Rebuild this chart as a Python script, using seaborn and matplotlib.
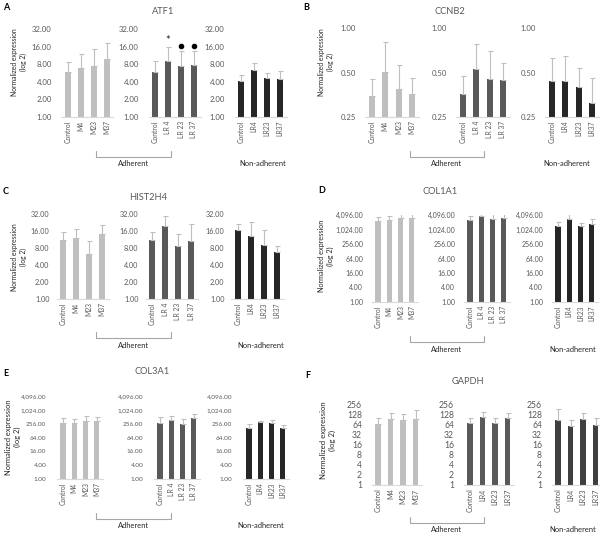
import matplotlib
matplotlib.use("Agg")
import matplotlib.pyplot as plt
import seaborn as sns
import pandas as pd
from matplotlib.lines import Line2D
from matplotlib.ticker import FixedLocator, FixedFormatter, NullLocator

sns.set_theme(style="white")
plt.rcParams['font.family'] = ['Lato', 'DejaVu Sans']

W, H = 600, 533

# categories for the three sub-groups of every panel
cats_m = ["Control", "M4", "M23", "M37"]
cats_lr = ["Control", "LR 4", "LR 23", "LR 37"]
cats_lr_nosp = ["Control", "LR4", "LR23", "LR37"]

# ATF1 (mean, top of upper error bar)
atf1_m = [5.8, 7.0, 7.6, 9.7]
atf1_m_err = [8.6, 12.0, 14.4, 18.2]
atf1_lr = [5.8, 9.2, 7.6, 7.8]
atf1_lr_err = [9.1, 16.0, 13.7, 13.2]
atf1_na = [4.05, 6.4, 4.6, 4.5]
atf1_na_err = [5.3, 8.3, 5.6, 6.2]

# CCNB2
ccnb2_m = [0.346, 0.50, 0.384, 0.355]
ccnb2_m_err = [0.45, 0.80, 0.56, 0.456]
ccnb2_lr = [0.355, 0.53, 0.45, 0.445]
ccnb2_lr_err = [0.473, 0.78, 0.70, 0.58]
ccnb2_na = [0.44, 0.44, 0.40, 0.31]
ccnb2_na_err = [0.63, 0.65, 0.54, 0.458]

# HIST2H4
hist_m = [11.2, 12.0, 6.3, 14.1]
hist_m_err = [15.2, 17.4, 10.8, 20.7]
hist_lr = [11.2, 19.3, 8.8, 10.5]
hist_lr_err = [15.2, 30.0, 14.4, 21.3]
hist_na = [16.9, 13.2, 9.2, 6.8]
hist_na_err = [21.3, 23.0, 16.7, 8.8]

# COL1A1
col1_m = [2400, 2570, 3000, 3000]
col1_m_err = [3300, 3900, 5300, 4900]
col1_lr = [2600, 3900, 2800, 3200]
col1_lr_err = [3900, 6000, 4900, 4300]
col1_na = [1450, 2750, 1450, 1700]
col1_na_err = [2200, 4400, 1870, 2800]

# COL3A1
col3_m = [280, 280, 330, 330]
col3_m_err = [460, 390, 580, 510]
col3_lr = [280, 370, 255, 430]
col3_lr_err = [480, 560, 390, 645]
col3_na = [170, 300, 280, 160]
col3_na_err = [238, 340, 365, 222]

# GAPDH
gapdh_m = [69, 97, 90, 99]
gapdh_m_err = [101, 144, 137, 181]
gapdh_lr = [72, 114, 75, 101]
gapdh_lr_err = [101, 154, 101, 144]
gapdh_na = [90, 60, 95, 64]
gapdh_na_err = [194, 90, 144, 101]

ticks_32 = [1, 2, 4, 8, 16, 32]
labels_32 = ["1.00", "2.00", "4.00", "8.00", "16.00", "32.00"]
ticks_ccnb2 = [0.25, 0.5, 1.0]
labels_ccnb2 = ["0.25", "0.50", "1.00"]
ticks_4096 = [1, 4, 16, 64, 256, 1024, 4096]
labels_4096 = ["1.00", "4.00", "16.00", "64.00", "256.00", "1,024.00", "4,096.00"]
ticks_256 = [1, 2, 4, 8, 16, 32, 64, 128, 256]
labels_256 = [str(t) for t in ticks_256]

LIGHT = "#bfbfbf"
MID = "#595959"
DARK = "#262626"
TXT = "#595959"

fig = plt.figure(figsize=(W / 100, H / 100), dpi=100)


def px_axes(x0, x1, ytop, ybase):
    return fig.add_axes([x0 / W, 1 - ybase / H, (x1 - x0) / W, (ybase - ytop) / H])


def group(x_first, spacing, ytop, ybase, cats, vals, errs, color, ticks, tlabels,
          width, yfs, ypad, xfs):
    ax = px_axes(x_first - spacing / 2, x_first + spacing * 3.5, ytop, ybase)
    df = pd.DataFrame({"cat": cats, "val": vals})
    ax.set_yscale("log", base=2)
    sns.barplot(data=df, x="cat", y="val", color=color, width=width, ax=ax,
                errorbar=None, saturation=1)
    for p in ax.patches:
        p.set_edgecolor("none")
    lower = [0] * len(vals)
    upper = [e - v for e, v in zip(errs, vals)]
    ax.errorbar(range(len(vals)), vals, yerr=[lower, upper], fmt="none",
                ecolor=LIGHT, elinewidth=0.8, capsize=1.8, capthick=0.8, zorder=1)
    ax.set_ylim(ticks[0], ticks[-1])
    ax.set_xlim(-0.5, 3.5)
    ax.yaxis.set_major_locator(FixedLocator(ticks))
    ax.yaxis.set_major_formatter(FixedFormatter(tlabels))
    ax.yaxis.set_minor_locator(NullLocator())
    ax.tick_params(axis="y", length=0, labelsize=yfs, colors=TXT, pad=ypad)
    ax.tick_params(axis="x", length=0, labelsize=xfs, colors=TXT, pad=2.5,
                   labelrotation=90)
    ax.set_xlabel("")
    ax.set_ylabel("")
    for s in ["top", "right", "left"]:
        ax.spines[s].set_visible(False)
    ax.spines["bottom"].set_color("#d9d9d9")
    ax.spines["bottom"].set_linewidth(0.8)
    ax.patch.set_alpha(0)
    return ax


def bracket(x1, x2, y, label, label_y, fs):
    fig.add_artist(Line2D([x1 / W, x1 / W, x2 / W, x2 / W],
                          [1 - (y - 6) / H, 1 - y / H, 1 - y / H, 1 - (y - 6) / H],
                          color="#a6a6a6", lw=0.8))
    fig.text((x1 + x2) / 2 / W, 1 - label_y / H, label, ha="center", va="center",
             fontsize=fs, color="#262626")


def panel(letter, lx, ly, title, tx, ty, ylx, yly, firsts, spacing, ytop, ybase,
          series, cat_sets, colors, ticks, tlabels, br_x, br_y, na_x, width,
          yfs, ypad, xfs, labfs):
    fig.text(lx / W, 1 - ly / H, letter, fontsize=6.5, fontweight="bold", ha="left",
             va="center", color="#000000")
    fig.text(tx / W, 1 - ty / H, title, fontsize=6.7, ha="center", va="center",
             color=TXT)
    fig.text(ylx / W, 1 - yly / H, "Normalized expression\n(log 2)", fontsize=labfs,
             rotation=90, ha="center", va="center", color="#262626", linespacing=1.3)
    axes = []
    for xf, (v, e), cats, c in zip(firsts, series, cat_sets, colors):
        axes.append(group(xf, spacing, ytop, ybase, cats, v, e, c, ticks, tlabels,
                          width, yfs, ypad, xfs))
    bracket(br_x[0], br_x[1], br_y, "Adherent", br_y + 7, 5.4)
    fig.text(na_x / W, 1 - (br_y + 7) / H, "Non-adherent", fontsize=5.4,
             ha="center", va="center", color="#262626")
    return axes


cols3 = [LIGHT, MID, DARK]

# A
axA = panel("A", 3, 8, "ATF1", 163, 12, 19, 62, [68, 155, 241], 13, 29, 117,
            [(atf1_m, atf1_m_err), (atf1_lr, atf1_lr_err), (atf1_na, atf1_na_err)],
            [cats_m, cats_lr, cats_lr_nosp], cols3, ticks_32, labels_32,
            (96, 171), 157, 263, 0.46, 5.6, 7, 4.9, 4.9)
axA[1].text(1, 20.5, "*", ha="center", va="center", fontsize=8, color="#262626")
for i in [2, 3]:
    axA[1].plot([i], [16.4], "o", color="#000000", ms=3.0, clip_on=False)

# B
panel("B", 303, 8, "CCNB2", 450, 12, 326, 62, [372, 463, 552], 13.3, 28, 117,
      [(ccnb2_m, ccnb2_m_err), (ccnb2_lr, ccnb2_lr_err), (ccnb2_na, ccnb2_na_err)],
      [cats_m, cats_lr, cats_lr_nosp], cols3, ticks_ccnb2, labels_ccnb2,
      (410, 484), 157, 567, 0.46, 5.6, 7, 4.9, 4.9)

# C
panel("C", 3, 192, "HIST2H4", 148, 198, 19, 257, [63, 152, 238], 13, 214, 299,
      [(hist_m, hist_m_err), (hist_lr, hist_lr_err), (hist_na, hist_na_err)],
      [cats_m, cats_lr, cats_lr_nosp], cols3, ticks_32, labels_32,
      (96, 171), 338, 261, 0.46, 5.2, 5, 4.9, 4.9)

# D
panel("D", 318, 190, "COL1A1", 440, 192, 326, 256, [378, 470, 558], 11.3, 215, 302,
      [(col1_m, col1_m_err), (col1_lr, col1_lr_err), (col1_na, col1_na_err)],
      [cats_m, cats_lr, cats_lr_nosp], cols3, ticks_4096, labels_4096,
      (410, 484), 342, 573, 0.45, 5.0, 6.5, 4.9, 5.2)

# E
panel("E", 3, 373, "COL3A1", 152, 372, 13, 437, [63, 160, 249], 11.3, 396, 479,
      [(col3_m, col3_m_err), (col3_lr, col3_lr_err), (col3_na, col3_na_err)],
      [cats_m, cats_lr, cats_lr_nosp], cols3, ticks_4096, labels_4096,
      (96, 171), 519, 261, 0.45, 4.6, 8, 4.9, 5.4)

# F
panel("F", 305, 375, "GAPDH", 468, 382, 328, 440, [378, 470, 558], 12.5, 405, 485,
      [(gapdh_m, gapdh_m_err), (gapdh_lr, gapdh_lr_err), (gapdh_na, gapdh_na_err)],
      [cats_m, cats_lr_nosp, cats_lr_nosp], [LIGHT, MID, "#3f3f3f"], ticks_256,
      labels_256, (410, 484), 523, 573, 0.45, 6.2, 7, 5.2, 5.6)

fig.savefig("out.png", dpi=100)
